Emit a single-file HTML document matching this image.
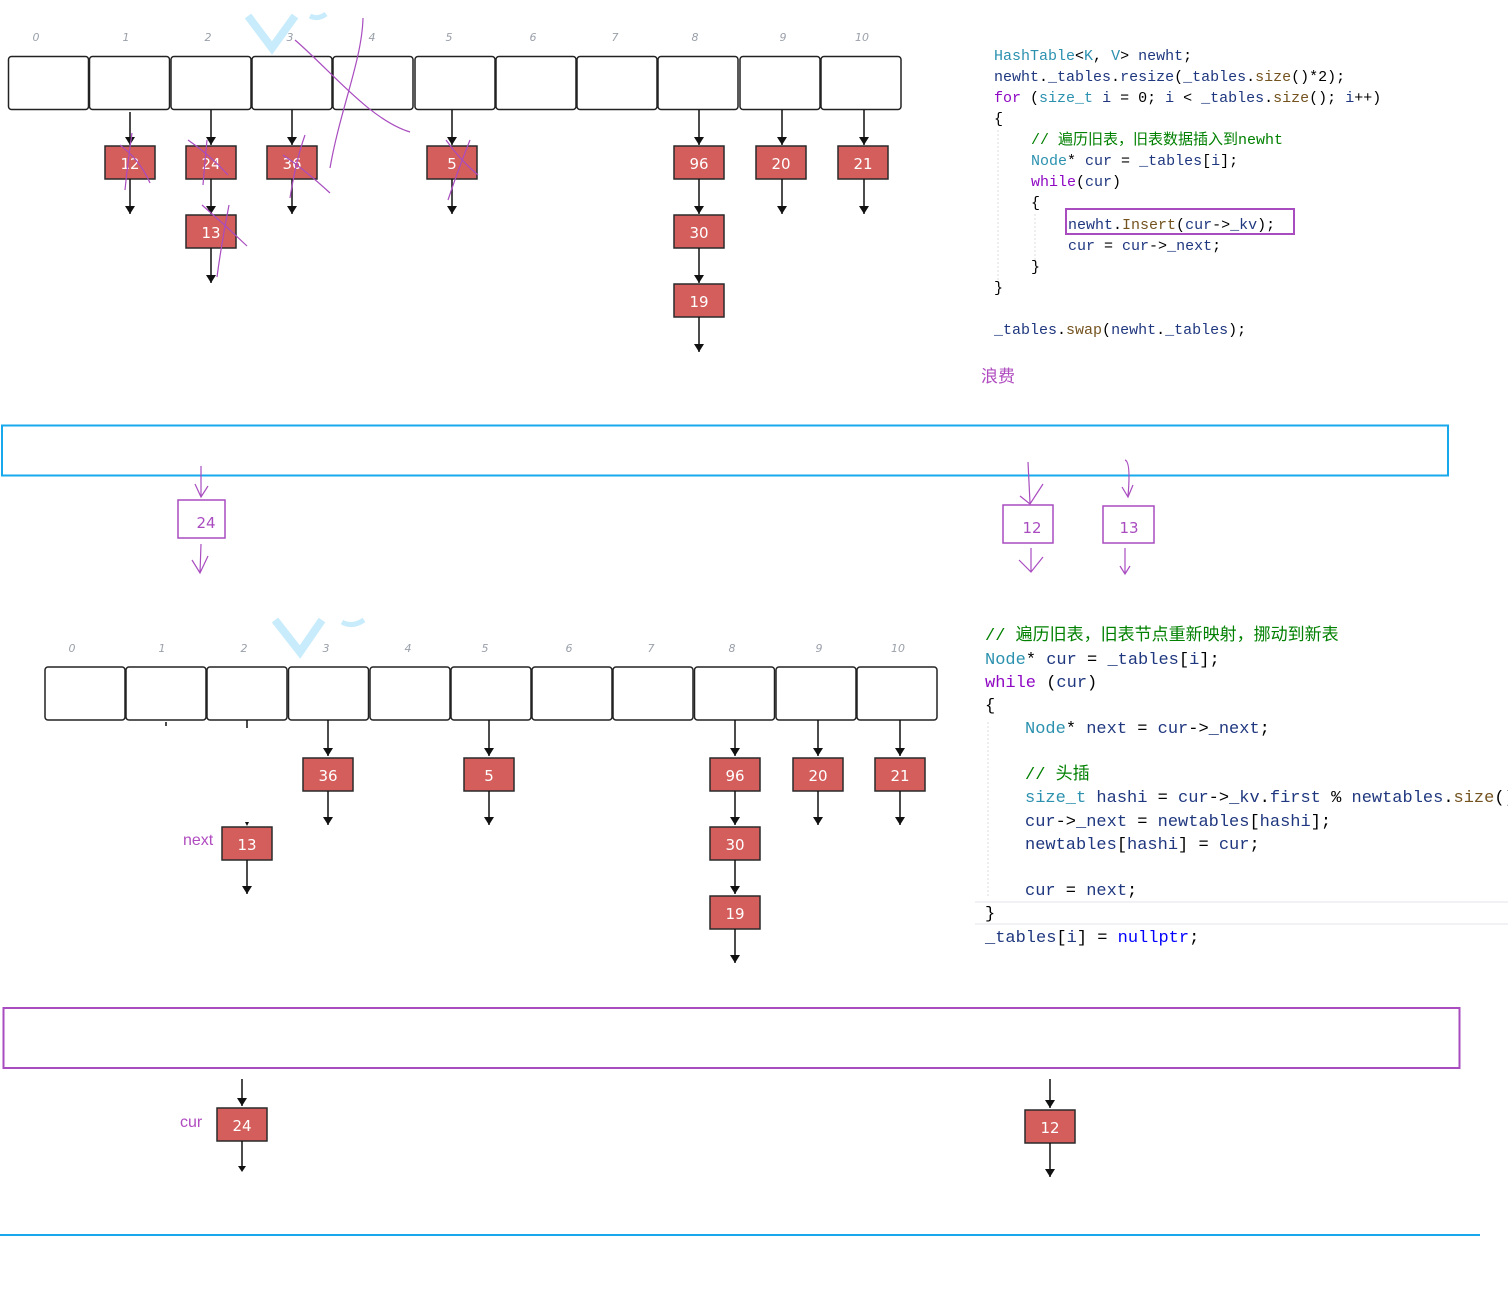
<!DOCTYPE html>
<html><head><meta charset="utf-8">
<style>
html,body{margin:0;padding:0;background:#fff;}
svg{display:block;}
.idx{font-family:"DejaVu Sans","Liberation Sans",sans-serif;font-style:italic;font-size:11px;fill:#9aa0aa;text-anchor:middle;}
.cell{fill:#fff;stroke:#222;stroke-width:1.5;}
.node{fill:#d35e5c;stroke:#2a2a2a;stroke-width:1.5;}
.nt{font-family:"DejaVu Sans","Liberation Sans",sans-serif;font-size:15px;fill:#fff;text-anchor:middle;}
.ln{stroke:#111;stroke-width:1.5;}
.pen{fill:none;stroke:#a94cc0;stroke-width:1.2;}
.code{font-family:"Liberation Mono","Noto Sans CJK SC",monospace;white-space:pre;}
.c1{font-size:15px;}
.c2{font-size:17px;}
.d{fill:#1f377f}.t{fill:#2b91af}.k{fill:#8f08c4}.m{fill:#74531f}.g{fill:#008000}.b{fill:#0000ff}.x{fill:#000}
.pl{font-family:"Liberation Sans","Noto Sans CJK SC",sans-serif;fill:#b04cc0;}
.ol{font-family:"DejaVu Sans","Liberation Sans",sans-serif;font-size:15px;fill:#a94cc0;text-anchor:middle;}
</style></head>
<body>
<svg width="1508" height="1289" viewBox="0 0 1508 1289" xmlns="http://www.w3.org/2000/svg">
<defs>
<marker id="ah" markerWidth="10" markerHeight="10" refX="8" refY="5" orient="auto" markerUnits="userSpaceOnUse">
<path d="M0,0 L8,5 L0,10 z" fill="#111"/>
</marker>
</defs>

<!-- ===== TOP TABLE ===== -->
<g>
<path d="M248,16 L272,48 L295,16" stroke="#c8ecfb" stroke-width="8" fill="none"/>
<path d="M310,16 Q318,20 326,14" stroke="#c8ecfb" stroke-width="5" fill="none"/>
<text class="idx" x="36" y="41">0</text><text class="idx" x="126" y="41">1</text><text class="idx" x="208" y="41">2</text><text class="idx" x="290" y="41">3</text><text class="idx" x="372" y="41">4</text><text class="idx" x="449" y="41">5</text><text class="idx" x="533" y="41">6</text><text class="idx" x="615" y="41">7</text><text class="idx" x="695" y="41">8</text><text class="idx" x="783" y="41">9</text><text class="idx" x="862" y="41">10</text>
<rect class="cell" x="8.5" y="56.5" width="80" height="53" rx="3"/>
<rect class="cell" x="89.5" y="56.5" width="80" height="53" rx="3"/>
<rect class="cell" x="171" y="56.5" width="80" height="53" rx="3"/>
<rect class="cell" x="252" y="56.5" width="80" height="53" rx="3"/>
<rect class="cell" x="333" y="56.5" width="80" height="53" rx="3"/>
<rect class="cell" x="415" y="56.5" width="80" height="53" rx="3"/>
<rect class="cell" x="496" y="56.5" width="80" height="53" rx="3"/>
<rect class="cell" x="577" y="56.5" width="80" height="53" rx="3"/>
<rect class="cell" x="658" y="56.5" width="80" height="53" rx="3"/>
<rect class="cell" x="740" y="56.5" width="80" height="53" rx="3"/>
<rect class="cell" x="821" y="56.5" width="80" height="53" rx="3"/>

<line class="ln" x1="130" y1="112" x2="130" y2="145" marker-end="url(#ah)"/>
<line class="ln" x1="211" y1="110" x2="211" y2="145" marker-end="url(#ah)"/>
<line class="ln" x1="292" y1="110" x2="292" y2="145" marker-end="url(#ah)"/>
<line class="ln" x1="452" y1="110" x2="452" y2="145" marker-end="url(#ah)"/>
<line class="ln" x1="699" y1="110" x2="699" y2="145" marker-end="url(#ah)"/>
<line class="ln" x1="782" y1="110" x2="782" y2="145" marker-end="url(#ah)"/>
<line class="ln" x1="864" y1="110" x2="864" y2="145" marker-end="url(#ah)"/>

<rect class="node" x="105" y="146" width="50" height="33"/><text class="nt" x="130" y="169">12</text>
<rect class="node" x="186" y="146" width="50" height="33"/><text class="nt" x="211" y="169">24</text>
<rect class="node" x="267" y="146" width="50" height="33"/><text class="nt" x="292" y="169">36</text>
<rect class="node" x="427" y="146" width="50" height="33"/><text class="nt" x="452" y="169">5</text>
<rect class="node" x="674" y="146" width="50" height="33"/><text class="nt" x="699" y="169">96</text>
<rect class="node" x="756" y="146" width="50" height="33"/><text class="nt" x="781" y="169">20</text>
<rect class="node" x="838" y="146" width="50" height="33"/><text class="nt" x="863" y="169">21</text>

<line class="ln" x1="130" y1="179" x2="130" y2="214" marker-end="url(#ah)"/>
<line class="ln" x1="211" y1="179" x2="211" y2="214" marker-end="url(#ah)"/>
<line class="ln" x1="292" y1="179" x2="292" y2="214" marker-end="url(#ah)"/>
<line class="ln" x1="452" y1="179" x2="452" y2="214" marker-end="url(#ah)"/>
<line class="ln" x1="699" y1="179" x2="699" y2="214" marker-end="url(#ah)"/>
<line class="ln" x1="782" y1="179" x2="782" y2="214" marker-end="url(#ah)"/>
<line class="ln" x1="864" y1="179" x2="864" y2="214" marker-end="url(#ah)"/>

<rect class="node" x="186" y="215" width="50" height="33"/><text class="nt" x="211" y="238">13</text>
<rect class="node" x="674" y="215" width="50" height="33"/><text class="nt" x="699" y="238">30</text>
<line class="ln" x1="211" y1="248" x2="211" y2="283" marker-end="url(#ah)"/>
<line class="ln" x1="699" y1="248" x2="699" y2="283" marker-end="url(#ah)"/>
<rect class="node" x="674" y="284" width="50" height="33"/><text class="nt" x="699" y="307">19</text>
<line class="ln" x1="699" y1="317" x2="699" y2="352" marker-end="url(#ah)"/>

<path class="pen" d="M295,40 C330,70 370,120 410,132"/>
<path class="pen" d="M363,18 C362,60 340,110 330,168"/>
<path class="pen" d="M120,145 Q140,160 150,183 M132,133 Q128,160 125,190"/>
<path class="pen" d="M188,140 Q210,155 228,175 M207,140 Q205,160 203,185"/>
<path class="pen" d="M283,155 Q305,170 330,193 M305,135 Q296,160 290,198"/>
<path class="pen" d="M446,140 Q460,160 478,175 M470,140 Q458,170 448,200"/>
<path class="pen" d="M202,205 Q225,225 247,246 M229,205 Q222,240 217,277"/>
</g>

<!-- ===== TOP CODE ===== -->
<g class="code c1">
<text x="994" y="60"><tspan class="t">HashTable</tspan><tspan class="x">&lt;</tspan><tspan class="t">K</tspan><tspan class="x">, </tspan><tspan class="t">V</tspan><tspan class="x">&gt; </tspan><tspan class="d">newht</tspan><tspan class="x">;</tspan></text>
<text x="994" y="81"><tspan class="d">newht</tspan><tspan class="x">.</tspan><tspan class="d">_tables</tspan><tspan class="x">.</tspan><tspan class="d">resize</tspan><tspan class="x">(</tspan><tspan class="d">_tables</tspan><tspan class="x">.</tspan><tspan class="m">size</tspan><tspan class="x">()*2);</tspan></text>
<text x="994" y="102"><tspan class="k">for</tspan><tspan class="x"> (</tspan><tspan class="t">size_t</tspan><tspan class="x"> </tspan><tspan class="d">i</tspan><tspan class="x"> = 0; </tspan><tspan class="d">i</tspan><tspan class="x"> &lt; </tspan><tspan class="d">_tables</tspan><tspan class="x">.</tspan><tspan class="m">size</tspan><tspan class="x">(); </tspan><tspan class="d">i</tspan><tspan class="x">++)</tspan></text>
<text x="994" y="123" class="x">{</text>
<text x="1031" y="144"><tspan class="g">// 遍历旧表，旧表数据插入到newht</tspan></text>
<text x="1031" y="165"><tspan class="t">Node</tspan><tspan class="x">* </tspan><tspan class="d">cur</tspan><tspan class="x"> = </tspan><tspan class="d">_tables</tspan><tspan class="x">[</tspan><tspan class="d">i</tspan><tspan class="x">];</tspan></text>
<text x="1031" y="186"><tspan class="k">while</tspan><tspan class="x">(</tspan><tspan class="d">cur</tspan><tspan class="x">)</tspan></text>
<text x="1031" y="207" class="x">{</text>
<text x="1068" y="229"><tspan class="d">newht</tspan><tspan class="x">.</tspan><tspan class="m">Insert</tspan><tspan class="x">(</tspan><tspan class="d">cur</tspan><tspan class="x">-&gt;</tspan><tspan class="d">_kv</tspan><tspan class="x">);</tspan></text>
<text x="1068" y="250"><tspan class="d">cur</tspan><tspan class="x"> = </tspan><tspan class="d">cur</tspan><tspan class="x">-&gt;</tspan><tspan class="d">_next</tspan><tspan class="x">;</tspan></text>
<text x="1031" y="271" class="x">}</text>
<text x="994" y="292" class="x">}</text>
<text x="994" y="334"><tspan class="d">_tables</tspan><tspan class="x">.</tspan><tspan class="m">swap</tspan><tspan class="x">(</tspan><tspan class="d">newht</tspan><tspan class="x">.</tspan><tspan class="d">_tables</tspan><tspan class="x">);</tspan></text>
</g>
<line x1="998" y1="130" x2="998" y2="282" stroke="#ddd" stroke-dasharray="2,2"/>
<line x1="1035" y1="214" x2="1035" y2="260" stroke="#ddd" stroke-dasharray="2,2"/>
<rect x="1066" y="209" width="228" height="25" fill="none" stroke="#a94cc0" stroke-width="2"/>
<text class="pl" x="981" y="382" font-size="17">浪费</text>

<!-- ===== BLUE RECT & OUTLINE NODES ===== -->
<rect x="2" y="425.5" width="1446" height="50" fill="none" stroke="#18a8ec" stroke-width="2"/>
<path class="pen" d="M201,466 L201,496 M195,484 L201,497 L208,486"/>
<rect x="178" y="500" width="47" height="38" fill="none" stroke="#a94cc0" stroke-width="1.5"/>
<text class="ol" x="206" y="528">24</text>
<path class="pen" d="M201,544 L200,573 M192,560 L200,573 L208,556"/>
<path class="pen" d="M1028,462 L1030,503 M1020,496 L1030,504 L1043,484"/>
<rect x="1003" y="505" width="50" height="38" fill="none" stroke="#a94cc0" stroke-width="1.5"/>
<text class="ol" x="1032" y="533">12</text>
<path class="pen" d="M1031,548 L1031,571 M1019,560 L1031,572 L1043,557"/>
<path class="pen" d="M1125,460 Q1131,462 1128,496 M1122,487 L1128,497 L1133,485"/>
<rect x="1103" y="506" width="51" height="37" fill="none" stroke="#a94cc0" stroke-width="1.5"/>
<text class="ol" x="1129" y="533">13</text>
<path class="pen" d="M1125,548 L1125,574 M1120,566 L1125,574 L1130,566"/>

<!-- ===== BOTTOM TABLE ===== -->
<g>
<path d="M275,620 L300,652 L322,620" stroke="#c8ecfb" stroke-width="8" fill="none"/>
<path d="M342,622 Q352,628 364,620" stroke="#c8ecfb" stroke-width="5" fill="none"/>
<text class="idx" x="72" y="652">0</text><text class="idx" x="162" y="652">1</text><text class="idx" x="244" y="652">2</text><text class="idx" x="326" y="652">3</text><text class="idx" x="408" y="652">4</text><text class="idx" x="485" y="652">5</text><text class="idx" x="569" y="652">6</text><text class="idx" x="651" y="652">7</text><text class="idx" x="732" y="652">8</text><text class="idx" x="819" y="652">9</text><text class="idx" x="898" y="652">10</text>
<rect class="cell" x="45" y="667" width="80" height="53" rx="3"/>
<rect class="cell" x="126" y="667" width="80" height="53" rx="3"/>
<rect class="cell" x="207" y="667" width="80" height="53" rx="3"/>
<rect class="cell" x="288.5" y="667" width="80" height="53" rx="3"/>
<rect class="cell" x="370" y="667" width="80" height="53" rx="3"/>
<rect class="cell" x="451" y="667" width="80" height="53" rx="3"/>
<rect class="cell" x="532" y="667" width="80" height="53" rx="3"/>
<rect class="cell" x="613" y="667" width="80" height="53" rx="3"/>
<rect class="cell" x="694.5" y="667" width="80" height="53" rx="3"/>
<rect class="cell" x="776" y="667" width="80" height="53" rx="3"/>
<rect class="cell" x="857" y="667" width="80" height="53" rx="3"/>
<line class="ln" x1="166" y1="722" x2="166" y2="726"/>
<line class="ln" x1="247" y1="720" x2="247" y2="728"/>

<line class="ln" x1="328" y1="720" x2="328" y2="756" marker-end="url(#ah)"/>
<line class="ln" x1="489" y1="720" x2="489" y2="756" marker-end="url(#ah)"/>
<line class="ln" x1="735" y1="720" x2="735" y2="756" marker-end="url(#ah)"/>
<line class="ln" x1="818" y1="720" x2="818" y2="756" marker-end="url(#ah)"/>
<line class="ln" x1="900" y1="720" x2="900" y2="756" marker-end="url(#ah)"/>

<rect class="node" x="303" y="758" width="50" height="33"/><text class="nt" x="328" y="781">36</text>
<rect class="node" x="464" y="758" width="50" height="33"/><text class="nt" x="489" y="781">5</text>
<rect class="node" x="710" y="758" width="50" height="33"/><text class="nt" x="735" y="781">96</text>
<rect class="node" x="793" y="758" width="50" height="33"/><text class="nt" x="818" y="781">20</text>
<rect class="node" x="875" y="758" width="50" height="33"/><text class="nt" x="900" y="781">21</text>

<line class="ln" x1="328" y1="791" x2="328" y2="825" marker-end="url(#ah)"/>
<line class="ln" x1="489" y1="791" x2="489" y2="825" marker-end="url(#ah)"/>
<line class="ln" x1="735" y1="791" x2="735" y2="825" marker-end="url(#ah)"/>
<line class="ln" x1="818" y1="791" x2="818" y2="825" marker-end="url(#ah)"/>
<line class="ln" x1="900" y1="791" x2="900" y2="825" marker-end="url(#ah)"/>

<path d="M245,822 L249,822 L247,826 z" fill="#111"/>
<rect class="node" x="222" y="827" width="50" height="33"/><text class="nt" x="247" y="850">13</text>
<text class="pl" x="183" y="845" font-size="16">next</text>
<line class="ln" x1="247" y1="860" x2="247" y2="894" marker-end="url(#ah)"/>
<rect class="node" x="710" y="827" width="50" height="33"/><text class="nt" x="735" y="850">30</text>
<line class="ln" x1="735" y1="860" x2="735" y2="894" marker-end="url(#ah)"/>
<rect class="node" x="710" y="896" width="50" height="33"/><text class="nt" x="735" y="919">19</text>
<line class="ln" x1="735" y1="929" x2="735" y2="963" marker-end="url(#ah)"/>
</g>

<!-- ===== BOTTOM CODE ===== -->
<line x1="975" y1="902" x2="1508" y2="902" stroke="#e4e6ee"/>
<line x1="975" y1="924" x2="1508" y2="924" stroke="#e4e6ee"/>
<line x1="988" y1="722" x2="988" y2="898" stroke="#ddd" stroke-dasharray="2,2"/>
<g class="code c2">
<text x="985" y="640"><tspan class="g">// 遍历旧表，旧表节点重新映射，挪动到新表</tspan></text>
<text x="985" y="664"><tspan class="t">Node</tspan><tspan class="x">* </tspan><tspan class="d">cur</tspan><tspan class="x"> = </tspan><tspan class="d">_tables</tspan><tspan class="x">[</tspan><tspan class="d">i</tspan><tspan class="x">];</tspan></text>
<text x="985" y="687"><tspan class="k">while</tspan><tspan class="x"> (</tspan><tspan class="d">cur</tspan><tspan class="x">)</tspan></text>
<text x="985" y="710" class="x">{</text>
<text x="1025" y="733"><tspan class="t">Node</tspan><tspan class="x">* </tspan><tspan class="d">next</tspan><tspan class="x"> = </tspan><tspan class="d">cur</tspan><tspan class="x">-&gt;</tspan><tspan class="d">_next</tspan><tspan class="x">;</tspan></text>
<text x="1025" y="779"><tspan class="g">// 头插</tspan></text>
<text x="1025" y="802"><tspan class="t">size_t</tspan><tspan class="x"> </tspan><tspan class="d">hashi</tspan><tspan class="x"> = </tspan><tspan class="d">cur</tspan><tspan class="x">-&gt;</tspan><tspan class="d">_kv</tspan><tspan class="x">.</tspan><tspan class="d">first</tspan><tspan class="x"> % </tspan><tspan class="d">newtables</tspan><tspan class="x">.</tspan><tspan class="m">size</tspan><tspan class="x">();</tspan></text>
<text x="1025" y="826"><tspan class="d">cur</tspan><tspan class="x">-&gt;</tspan><tspan class="d">_next</tspan><tspan class="x"> = </tspan><tspan class="d">newtables</tspan><tspan class="x">[</tspan><tspan class="d">hashi</tspan><tspan class="x">];</tspan></text>
<text x="1025" y="849"><tspan class="d">newtables</tspan><tspan class="x">[</tspan><tspan class="d">hashi</tspan><tspan class="x">] = </tspan><tspan class="d">cur</tspan><tspan class="x">;</tspan></text>
<text x="1025" y="895"><tspan class="d">cur</tspan><tspan class="x"> = </tspan><tspan class="d">next</tspan><tspan class="x">;</tspan></text>
<text x="985" y="918" class="x">}</text>
<text x="985" y="942"><tspan class="d">_tables</tspan><tspan class="x">[</tspan><tspan class="d">i</tspan><tspan class="x">] = </tspan><tspan class="b">nullptr</tspan><tspan class="x">;</tspan></text>
</g>

<!-- ===== PURPLE RECT & bottom ===== -->
<rect x="3.5" y="1008" width="1456" height="60" fill="none" stroke="#a94cc0" stroke-width="2"/>
<line class="ln" x1="242" y1="1079" x2="242" y2="1106" marker-end="url(#ah)"/>
<rect class="node" x="217" y="1108" width="50" height="33"/><text class="nt" x="242" y="1131">24</text>
<text class="pl" x="180" y="1127" font-size="16">cur</text>
<line class="ln" x1="242" y1="1141" x2="242" y2="1168"/>
<path d="M238,1166 L246,1166 L242,1172 z" fill="#111"/>
<line class="ln" x1="1050" y1="1079" x2="1050" y2="1108" marker-end="url(#ah)"/>
<rect class="node" x="1025" y="1110" width="50" height="33"/><text class="nt" x="1050" y="1133">12</text>
<line class="ln" x1="1050" y1="1143" x2="1050" y2="1177" marker-end="url(#ah)"/>
<line x1="0" y1="1235" x2="1480" y2="1235" stroke="#18a8ec" stroke-width="2"/>
</svg>
</body></html>
